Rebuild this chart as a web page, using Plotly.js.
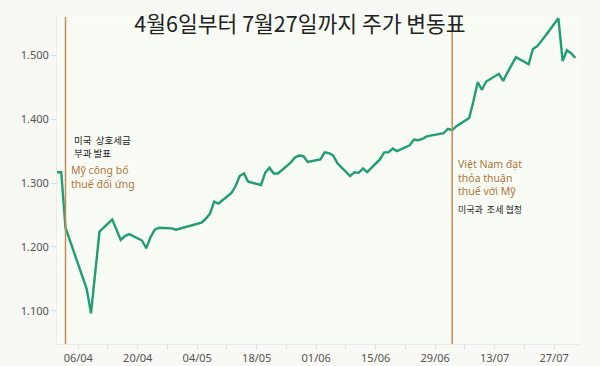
<!DOCTYPE html>
<html>
<head>
<meta charset="utf-8">
<script src="https://cdn.plot.ly/plotly-3.0.1.min.js"></script>
<style>html,body{margin:0;padding:0;background:#f8f8f4;}#chart{width:600px;height:366px;}</style>
</head>
<body>
<div id="chart"></div>
<script>
const dates = [
  '2025-04-01','2025-04-02','2025-04-03','2025-04-04','2025-04-08','2025-04-09','2025-04-10','2025-04-11',
  '2025-04-14','2025-04-15','2025-04-16','2025-04-17','2025-04-18','2025-04-21','2025-04-22','2025-04-23',
  '2025-04-24','2025-04-25','2025-04-28','2025-04-29','2025-05-05','2025-05-06','2025-05-07','2025-05-08',
  '2025-05-09','2025-05-12','2025-05-13','2025-05-14','2025-05-15','2025-05-16','2025-05-19','2025-05-20',
  '2025-05-21','2025-05-22','2025-05-23','2025-05-26','2025-05-27','2025-05-28','2025-05-29','2025-05-30',
  '2025-06-02','2025-06-03','2025-06-04','2025-06-05','2025-06-06','2025-06-09','2025-06-10','2025-06-11',
  '2025-06-12','2025-06-13','2025-06-16','2025-06-17','2025-06-18','2025-06-19','2025-06-20','2025-06-23',
  '2025-06-24','2025-06-25','2025-06-26','2025-06-27','2025-06-30','2025-07-01','2025-07-02','2025-07-03',
  '2025-07-04','2025-07-07','2025-07-08','2025-07-09','2025-07-10','2025-07-11','2025-07-14','2025-07-15',
  '2025-07-16','2025-07-17','2025-07-18','2025-07-21','2025-07-22','2025-07-23','2025-07-24','2025-07-25',
  '2025-07-28','2025-07-29','2025-07-30','2025-07-31','2025-08-01'
];
const index = [
  1317,1317,1230,1211,1134,1096,1163,1224,
  1243,1227,1211,1217,1220,1210,1198,1215,
  1227,1230,1229,1227,1238,1244,1252,1271,
  1268,1284,1295,1311,1315,1302,1297,1316,
  1324,1315,1315,1332,1340,1343,1342,1333,
  1337,1348,1347,1343,1331,1311,1317,1316,
  1323,1317,1337,1348,1348,1354,1350,1359,
  1368,1367,1369,1373,1377,1378,1385,1383,
  1389,1402,1428,1458,1446,1459,1471,1460,
  1473,1486,1497,1486,1510,1514,1522,1531,
  1558,1491,1508,1503,1496
];
const tickDates = ['2025-04-06','2025-04-20','2025-05-04','2025-05-18','2025-06-01','2025-06-15','2025-06-29','2025-07-13','2025-07-27'];
const tickLabels = ['06/04','20/04','04/05','18/05','01/06','15/06','29/06','13/07','27/07'];
const yTicks = [1100,1200,1300,1400,1500];
const yTickLabels = ['1.100','1.200','1.300','1.400','1.500'];
const eventDates = ['2025-04-03','2025-07-03'];
const titleText = '4월6일부터 7월27일까지 주가 변동표';
const notes = [
  {x:'2025-04-04 14:00', y:1368, text:'미국  상호세금', color:'#222222', size:9.5, font:'Noto Sans CJK KR'},
  {x:'2025-04-04 14:00', y:1347, text:'부과 발표', color:'#222222', size:9.5, font:'Noto Sans CJK KR'},
  {x:'2025-04-03 20:00', y:1309, text:'Mỹ công bố<br>thuế đối ứng', color:'#b0753c', size:10.5, font:'Noto Sans'},
  {x:'2025-07-03 20:00', y:1309, text:'Việt Nam đạt<br>thỏa thuận<br>thuế với Mỹ', color:'#b0753c', size:10.5, font:'Noto Sans'},
  {x:'2025-07-03 20:00', y:1258, text:'미국과  조세 협정', color:'#222222', size:9, font:'Noto Sans CJK KR'}
];

const trace = {
  x: dates, y: index, type:'scatter', mode:'lines',
  line:{color:'#1f9e76', width:2.4},
  hoverinfo:'skip'
};

const layout = {
  width:600, height:366,
  margin:{l:57, r:20, t:17, b:22},
  paper_bgcolor:'#f8f8f4',
  plot_bgcolor:'#f9fcf5',
  showlegend:false,
  title:{text:titleText, x:0.5, xref:'container', xanchor:'center', y:0.933, yref:'container', yanchor:'middle',
    font:{family:'Noto Sans CJK KR, sans-serif', size:21.5, color:'#222222'}},
  xaxis:{
    type:'date', range:['2025-04-01','2025-08-02 02:00'],
    tickvals:tickDates, ticktext:tickLabels,
    ticks:'outside', ticklen:4, tickcolor:'#dddddd',
    showgrid:false, zeroline:false,
    showline:true, linecolor:'#e8e8e4', linewidth:1,
    tickfont:{family:'Noto Sans, sans-serif', size:11, color:'#555555'},
    minor:{ticks:'outside', ticklen:4, tickcolor:'#dddddd', dtick:7*86400000, tick0:'2025-04-06', showgrid:false}
  },
  yaxis:{
    range:[1048,1560],
    tickvals:yTicks, ticktext:yTickLabels,
    ticks:'outside', ticklen:5, tickcolor:'#dddddd',
    showgrid:false, zeroline:false,
    showline:true, linecolor:'#ebebe7', linewidth:1,
    tickfont:{family:'Noto Sans, sans-serif', size:11, color:'#555555'}
  },
  shapes: eventDates.map(d => ({type:'line', xref:'x', yref:'paper', x0:d, x1:d, y0:0, y1:1,
    line:{color:'#c9895a', width:1.5}})),
  annotations: notes.map(n => ({x:n.x, y:n.y, xref:'x', yref:'y', text:n.text, showarrow:false,
    xanchor:'left', yanchor:'middle', align:'left',
    font:{family:n.font + ', sans-serif', size:n.size, color:n.color}}))
};

Plotly.newPlot('chart', [trace], layout, {displayModeBar:false, staticPlot:true});
</script>
</body>
</html>
